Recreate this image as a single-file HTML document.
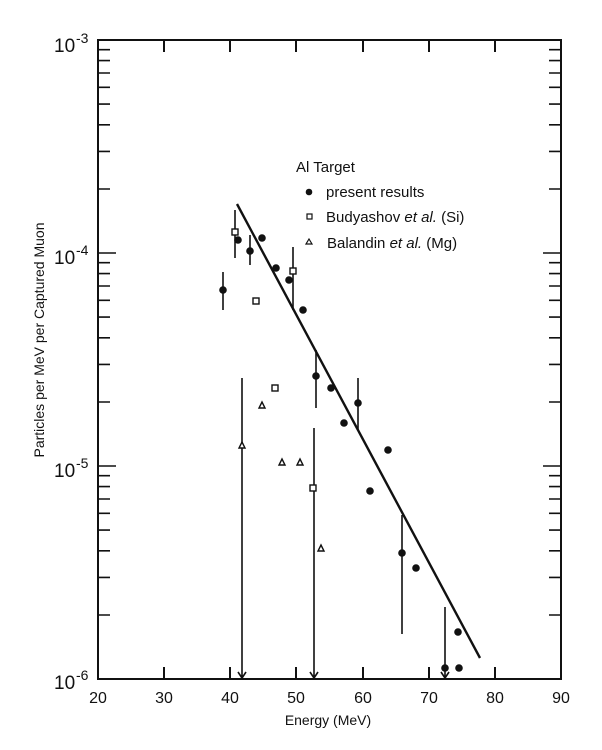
<!DOCTYPE html>
<html><head><style>body{margin:0;background:#fff}svg{display:block}text{font-family:"Liberation Sans",sans-serif;fill:#111}</style></head><body>
<svg width="602" height="750" viewBox="0 0 602 750" xmlns="http://www.w3.org/2000/svg">
<g stroke="#111" stroke-width="2" fill="none">
<rect x="98" y="40" width="463" height="639"/>
<path d="M164,40v12M230,40v12M296,40v12M363,40v12M429,40v12M495,40v12"/>
<path d="M164,679v-12M230,679v-12M296,679v-12M363,679v-12M429,679v-12M495,679v-12"/>
</g>
<g stroke="#111" stroke-width="1.6">
<path d="M98,466h18M561,466h-18M98,253h18M561,253h-18"/>
<path d="M98,615h12M98,577.4h12M98,550.8h12M98,530.1h12M98,513.3h12M98,499h12M98,486.6h12M98,475.7h12
M98,402h12M98,364.4h12M98,337.8h12M98,317.1h12M98,300.3h12M98,286h12M98,273.6h12M98,262.7h12
M98,189h12M98,151.4h12M98,124.8h12M98,104.1h12M98,87.3h12M98,73h12M98,60.6h12M98,49.7h12"/>
<path d="M561,615h-12M561,577.4h-12M561,550.8h-12M561,530.1h-12M561,513.3h-12M561,499h-12M561,486.6h-12M561,475.7h-12
M561,402h-12M561,364.4h-12M561,337.8h-12M561,317.1h-12M561,300.3h-12M561,286h-12M561,273.6h-12M561,262.7h-12
M561,189h-12M561,151.4h-12M561,124.8h-12M561,104.1h-12M561,87.3h-12M561,73h-12M561,60.6h-12M561,49.7h-12"/>
</g>
<g font-size="19">
<text x="54" y="52">10</text><text x="76" y="43" font-size="14">-3</text>
<text x="54" y="264">10</text><text x="76" y="255" font-size="14">-4</text>
<text x="54" y="477">10</text><text x="76" y="468" font-size="14">-5</text>
<text x="54" y="689">10</text><text x="76" y="680" font-size="14">-6</text>
</g>
<g font-size="16" text-anchor="middle">
<text x="98" y="703">20</text><text x="164" y="703">30</text><text x="230" y="703">40</text><text x="296" y="703">50</text><text x="363" y="703">60</text><text x="429" y="703">70</text><text x="495" y="703">80</text><text x="561" y="703">90</text>
<text x="328" y="725" font-size="14">Energy  (MeV)</text>
<text transform="translate(44,340) rotate(-90)" font-size="14">Particles per MeV per Captured Muon</text>
</g>
<g font-size="15">
<text x="296" y="172">Al  Target</text>
<text x="326" y="197">present results</text>
<text x="326" y="222">Budyashov <tspan font-style="italic">et al.</tspan> (Si)</text>
<text x="327" y="248">Balandin <tspan font-style="italic">et al.</tspan> (Mg)</text>
</g>
<circle cx="309" cy="192" r="3.3" fill="#111"/>
<rect x="307" y="214" width="5" height="5" fill="none" stroke="#111" stroke-width="1.2"/>
<path d="M309,239l3,5h-6z" fill="none" stroke="#111" stroke-width="1.2"/>
<g stroke="#111" stroke-width="1.6" fill="none">
<line x1="237" y1="204" x2="480" y2="658" stroke-width="2.4"/>
<path d="M223,272v38M235,210v48M250,235v30M293,247v63M316,350v58M358,378v52M402,515v119M445,607v71"/>
<path d="M242,378v300M238,672l4,6l4,-6M314,428v250M310,672l4,6l4,-6M441,672l4,6l4,-6"/>
</g>
<g fill="#111">
<circle cx="223" cy="290" r="3.8"/><circle cx="238" cy="240" r="3.8"/><circle cx="250" cy="251" r="3.8"/><circle cx="262" cy="238" r="3.8"/><circle cx="276" cy="268" r="3.8"/><circle cx="289" cy="280" r="3.8"/><circle cx="303" cy="310" r="3.8"/><circle cx="316" cy="376" r="3.8"/><circle cx="331" cy="388" r="3.8"/><circle cx="344" cy="423" r="3.8"/><circle cx="358" cy="403" r="3.8"/><circle cx="370" cy="491" r="3.8"/><circle cx="388" cy="450" r="3.8"/><circle cx="402" cy="553" r="3.8"/><circle cx="416" cy="568" r="3.8"/><circle cx="458" cy="632" r="3.8"/><circle cx="445" cy="668" r="3.8"/><circle cx="459" cy="668" r="3.8"/>
</g>
<g fill="#fff" stroke="#111" stroke-width="1.4">
<rect x="232" y="229" width="6" height="6"/><rect x="253" y="298" width="6" height="6"/><rect x="272" y="385" width="6" height="6"/><rect x="290" y="268" width="6" height="6"/><rect x="310" y="485" width="6" height="6"/>
<path d="M242,442l3,6h-6z M262,402l3,6h-6z M282,459l3,6h-6z M300,459l3,6h-6z M321,545l3,6h-6z"/>
</g>
</svg>
</body></html>
